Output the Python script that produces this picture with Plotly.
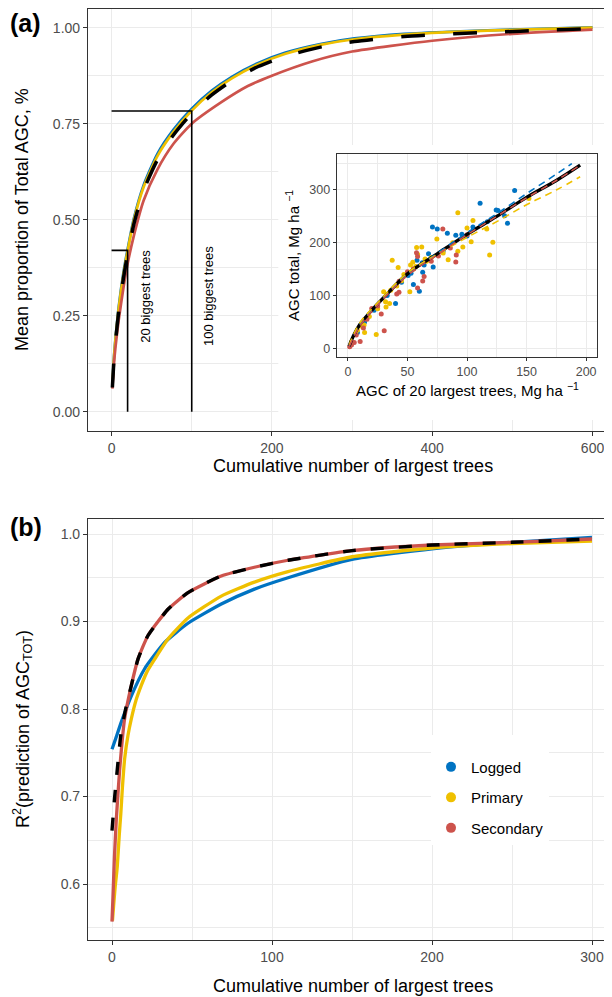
import plotly.graph_objects as go

# ------------------------------------------------------------------ data
GROUPS = ["Logged", "Primary", "Secondary"]
COLORS = {"Logged": "#0073C2", "Primary": "#EFC000", "Secondary": "#CD534C"}

# Panel (a): mean cumulative proportion of total AGC vs number of largest trees
a_x_lp = [1, 3, 5, 9, 15, 20, 28, 40, 57, 77, 100, 125, 150, 183, 217, 262, 303, 365, 427, 510, 600]
a_logged = [0.066, 0.142, 0.193, 0.274, 0.365, 0.423, 0.505, 0.590, 0.671, 0.734, 0.789, 0.836,
            0.872, 0.908, 0.935, 0.958, 0.972, 0.984, 0.990, 0.996, 1.001]
a_primary = [0.065, 0.140, 0.190, 0.270, 0.360, 0.418, 0.500, 0.585, 0.665, 0.728, 0.784, 0.832,
             0.868, 0.905, 0.932, 0.956, 0.970, 0.982, 0.989, 0.995, 1.000]
a_x_sec = [1, 3, 5, 9, 15, 20, 28, 40, 57, 77, 100, 137, 170, 200, 250, 300, 400, 500, 600]
a_secondary = [0.060, 0.125, 0.170, 0.240, 0.325, 0.385, 0.460, 0.550, 0.630, 0.697, 0.750, 0.806,
               0.848, 0.875, 0.912, 0.938, 0.966, 0.984, 0.995]
a_x_all = [1, 3, 5, 9, 15, 20, 28, 40, 57, 77, 100, 125, 150, 183, 217, 262, 303, 365, 427, 510, 600]
a_all = [0.063, 0.135, 0.183, 0.262, 0.350, 0.410, 0.490, 0.576, 0.655, 0.720, 0.777, 0.825,
         0.862, 0.899, 0.926, 0.950, 0.964, 0.977, 0.984, 0.991, 0.998]

# reference lines: n biggest trees and their share of AGC
ref_n = [20, 100]
ref_share = [0.42, 0.783]
ref_labels = ["20 biggest trees", "100 biggest trees"]
ref_label_x = [42, 121]
ref_label_y = [0.30, 0.30]

# Inset: AGC of 20 largest trees vs AGC total (Mg/ha)
ins_logged_x = [140, 111, 124.5, 126, 131.5, 134, 71, 75, 83.5, 90.6, 95.7, 105, 71.6, 67.7, 62.4,
                58, 60, 55, 40, 50.6, 62.8, 64, 3, 8, 14, 22, 33, 45, 53, 80, 100, 117]
ins_logged_y = [299, 275, 262, 261, 251, 237, 230, 226, 218, 214, 216, 230, 154, 179, 162,
                167, 108, 121, 85, 138, 144, 158, 10, 30, 50, 72, 100, 125, 142, 185, 213, 240]
ins_primary_x = [152, 92.3, 105, 116.6, 121.7, 119, 103.5, 100, 96.5, 92.3, 84.2, 74.7, 80, 37.2,
                 42.2, 62, 23.8, 31.6, 35, 32, 52, 13.6, 6.5, 14, 57.7, 58.5, 52.6, 54.5, 64.8, 30,
                 55, 57, 47, 3, 8, 11, 18, 25, 36, 41, 45, 66, 70, 88]
ins_primary_y = [284, 257, 242, 226, 201, 177, 202, 228, 192, 184, 168, 207, 180.5, 167,
                 153, 192, 26, 88, 85, 78, 107, 44, 27, 30, 191, 178, 158, 163, 169, 107,
                 150, 155, 140, 12, 34, 42, 60, 75, 110, 118, 128, 165, 172, 200]
ins_secondary_x = [79.7, 90.6, 91, 57.6, 58.5, 30.5, 10.3, 5.3, 28, 20, 13, 43, 42.9, 41, 64, 62.8,
                   58.5, 1.5, 3, 7, 16, 25, 50, 55, 70, 76, 86, 100]
ins_secondary_y = [226, 163.5, 177, 181, 174, 33, 13, 11, 65, 75.5, 38.5, 127, 106, 103, 136, 127.5,
                   114, 3, 6, 25, 55, 80, 145, 150, 165, 175, 190, 215]

# Inset fitted curves
fit_x_logged = [1, 10, 25, 50, 75, 100, 125, 150, 175, 188]
fit_logged = [4, 45, 84, 141, 180, 219, 255, 293, 330, 350]
fit_x = [1, 10, 25, 50, 75, 100, 125, 150, 175, 195]
fit_primary = [6, 48, 86, 143, 178, 210, 240, 272, 300, 325]
fit_secondary = [3, 42, 82, 138, 177, 215, 250, 285, 318, 347]
fit_x_all = [1, 5, 10, 20, 30, 50, 75, 100, 125, 150, 175, 195]
fit_all = [4, 25, 45, 72, 96, 141, 179, 216, 250, 286, 318, 347]

# Panel (b): R2 of AGC_TOT prediction vs number of largest trees
b_x_logged = [0, 2, 5.8, 12.1, 20.4, 32.9, 47.5, 68.3, 89, 110, 150, 200, 250, 300]
b_logged = [0.754, 0.7645, 0.785, 0.815, 0.846, 0.876, 0.898, 0.920, 0.937, 0.950, 0.971, 0.983, 0.9905, 0.996]
b_x_primary = [0.3, 1, 2, 3.3, 4.5, 5.5, 6.5, 7.9, 10, 12.1, 15, 18.3, 22, 26.7, 35, 47.5, 68.3,
               89, 110, 150, 200, 250, 300]
b_primary = [0.558, 0.575, 0.597, 0.620, 0.655, 0.680, 0.710, 0.743, 0.770, 0.789, 0.810, 0.827,
             0.843, 0.857, 0.880, 0.904, 0.929, 0.945, 0.957, 0.974, 0.984, 0.989, 0.992]
b_x_secondary = [0, 0.6, 1.5, 2.7, 4.8, 7.9, 12.1, 16.25, 22.5, 35, 47.5, 68.3, 89, 110, 150, 200, 250, 300]
b_secondary = [0.557, 0.585, 0.630, 0.674, 0.731, 0.789, 0.827, 0.857, 0.884, 0.914, 0.933, 0.952,
               0.962, 0.970, 0.981, 0.9874, 0.9905, 0.9943]
b_x_all = [0, 1.7, 3.3, 5.5, 8.5, 12.1, 16.25, 22.5, 35, 47.5, 68.3, 89, 110, 150, 200, 250, 300]
b_all = [0.661, 0.700, 0.731, 0.770, 0.800, 0.827, 0.857, 0.884, 0.914, 0.933, 0.952, 0.962, 0.970,
         0.981, 0.9874, 0.9905, 0.9943]

# ------------------------------------------------------------------ layout helpers
# the page body adds an 8px margin, so the figure is 8px smaller and all
# window positions are shifted by 8px
OFF = 8
W, H = 612 - OFF, 997 - OFF
FONT = "Liberation Sans, Arial, Helvetica, sans-serif"
TICK_C = "#4D4D4D"
LINE_C = "#333333"
GRID_C = "#EBEBEB"


def fx(p):
    return (p - OFF) / W


def fy(p):
    return 1 - (p - OFF) / H


fig = go.Figure()

# ---------------- panel (a)
a_series = {"Logged": (a_x_lp, a_logged), "Primary": (a_x_lp, a_primary), "Secondary": (a_x_sec, a_secondary)}
for g in GROUPS:
    xs, ys = a_series[g]
    fig.add_trace(go.Scatter(x=xs, y=ys, mode="lines", line=dict(color=COLORS[g], width=2.7, shape="spline", smoothing=0.6),
                             showlegend=False, hoverinfo="skip", xaxis="x", yaxis="y"))
fig.add_trace(go.Scatter(x=a_x_all, y=a_all, mode="lines",
                         line=dict(color="black", width=3.5, dash="24px,28px", shape="spline", smoothing=0.6),
                         showlegend=False, hoverinfo="skip", xaxis="x", yaxis="y"))
for n, s in zip(ref_n, ref_share):
    fig.add_trace(go.Scatter(x=[0, n, n], y=[s, s, 0], mode="lines", line=dict(color="black", width=1.6),
                             showlegend=False, hoverinfo="skip", xaxis="x", yaxis="y"))
for t, xx, yy in zip(ref_labels, ref_label_x, ref_label_y):
    fig.add_annotation(x=xx, y=yy, xref="x", yref="y", text=t, textangle=-90, showarrow=False,
                       font=dict(family=FONT, size=13, color="black"))

# ---------------- inset
ins_pts = {"Logged": (ins_logged_x, ins_logged_y), "Primary": (ins_primary_x, ins_primary_y),
           "Secondary": (ins_secondary_x, ins_secondary_y)}
for g in GROUPS:
    xs, ys = ins_pts[g]
    fig.add_trace(go.Scatter(x=xs, y=ys, mode="markers", marker=dict(color=COLORS[g], size=5),
                             showlegend=False, hoverinfo="skip", xaxis="x3", yaxis="y3"))
fig.add_trace(go.Scatter(x=fit_x_all, y=fit_all, mode="lines", line=dict(color="black", width=3.3, shape="spline"),
                         showlegend=False, hoverinfo="skip", xaxis="x3", yaxis="y3"))
ins_fit = {"Logged": (fit_x_logged, fit_logged), "Primary": (fit_x, fit_primary), "Secondary": (fit_x, fit_secondary)}
for g in GROUPS:
    xs, ys = ins_fit[g]
    fig.add_trace(go.Scatter(x=xs, y=ys, mode="lines",
                             line=dict(color=COLORS[g], width=1.6, dash="7px,5px", shape="spline"),
                             showlegend=False, hoverinfo="skip", xaxis="x3", yaxis="y3"))

# ---------------- panel (b)
b_series = {"Logged": (b_x_logged, b_logged), "Primary": (b_x_primary, b_primary),
            "Secondary": (b_x_secondary, b_secondary)}
for g in GROUPS:
    xs, ys = b_series[g]
    fig.add_trace(go.Scatter(x=xs, y=ys, mode="lines", line=dict(color=COLORS[g], width=3.3, shape="spline", smoothing=0.5),
                             showlegend=False, hoverinfo="skip", xaxis="x2", yaxis="y2"))
fig.add_trace(go.Scatter(x=b_x_all, y=b_all, mode="lines",
                         line=dict(color="black", width=3.4, dash="13px,15px", shape="spline", smoothing=0.5),
                         showlegend=False, hoverinfo="skip", xaxis="x2", yaxis="y2"))
# legend keys
for g in GROUPS:
    fig.add_trace(go.Scatter(x=[None], y=[None], mode="markers", marker=dict(color=COLORS[g], size=10),
                             name=g, legendgroup=g, showlegend=True, xaxis="x2", yaxis="y2"))

# white background of the inset (covers main grid behind it)
try:
    fig.add_shape(type="rect", xref="x", yref="y", x0=208, x1=618, y0=-0.0216, y1=0.6945,
                  fillcolor="white", line=dict(width=0), layer="between")
except ValueError:
    fig.add_shape(type="rect", xref="x", yref="y", x0=208, x1=618, y0=-0.0216, y1=0.6945,
                  fillcolor="white", line=dict(width=0), layer="below")


def axis(domain, rng, dtick, minor, fmt=None, tick_size=14, mirror=False, ticklen=4, anchor=None):
    d = dict(domain=domain, range=rng, dtick=dtick, tick0=0, showgrid=True, gridcolor=GRID_C, gridwidth=1.3,
             minor=dict(dtick=minor, tick0=0, showgrid=True, gridcolor=GRID_C, gridwidth=0.9),
             zeroline=False, showline=True, linecolor=LINE_C, linewidth=1.2, mirror=mirror,
             ticks="outside", ticklen=ticklen, tickwidth=1.1, tickcolor=LINE_C,
             tickfont=dict(family=FONT, size=tick_size, color=TICK_C), automargin=False)
    if fmt:
        d["tickformat"] = fmt
    if anchor:
        d["anchor"] = anchor
    return d


fig.update_layout(
    width=W, height=H, margin=dict(l=0, r=0, t=0, b=0),
    paper_bgcolor="white", plot_bgcolor="white",
    font=dict(family=FONT, color="black"),
    xaxis=axis([fx(88), 1], [-29.4, 624.3], 200, 100, mirror=True, anchor="y"),
    yaxis=axis([fy(431), fy(9)], [-0.0503, 1.0487], 0.25, 0.125, fmt=".2f", anchor="x"),
    xaxis2=axis([fx(88), 1], [-15, 312.5], 100, 50, mirror=True, anchor="y2"),
    yaxis2=axis([fy(940), fy(519)], [0.536, 1.01714], 0.1, 0.05, fmt=".1f", anchor="x2"),
    xaxis3=axis([fx(336.7), fx(597.3)], [-9.4, 209.4], 50, 25, tick_size=12.5, mirror=True, ticklen=3, anchor="y3"),
    yaxis3=axis([fy(357.3), fy(154.3)], [-17.1, 367.6], 100, 50, tick_size=12.5, mirror=True, ticklen=3, anchor="x3"),
    legend=dict(x=fx(431), y=fy(735), xanchor="left", yanchor="top", bgcolor="white", borderwidth=0,
                font=dict(family=FONT, size=15, color="black"), tracegroupgap=8, itemwidth=30,
                title=dict(text=" ", font=dict(size=12))),
)

# titles and panel labels
ann = [
    dict(x=fx(8), y=fy(23), text="<b>(a)</b>", xanchor="left", size=25),
    dict(x=fx(8), y=fy(527), text="<b>(b)</b>", xanchor="left", size=25),
    dict(x=fx(353), y=fy(466), text="Cumulative number of largest trees", size=18),
    dict(x=fx(353), y=fy(986), text="Cumulative number of largest trees", size=18),
    dict(x=fx(22), y=fy(220), text="Mean proportion of Total AGC, %", size=18, angle=-90),
    dict(x=fx(22), y=fy(729), text="R<sup>2</sup>(prediction of AGC<sub>TOT</sub>)", size=18, angle=-90),
    dict(x=fx(467), y=fy(390), text="AGC of 20 largest trees, Mg ha <sup>\u22121</sup>", size=15),
    dict(x=fx(293), y=fy(256), text="AGC total, Mg ha <sup>\u22121</sup>", size=15, angle=-90),
]
for a in ann:
    fig.add_annotation(x=a["x"], y=a["y"], xref="paper", yref="paper", text=a["text"], showarrow=False,
                       xanchor=a.get("xanchor", "center"), yanchor="middle", textangle=a.get("angle", 0),
                       font=dict(family=FONT, size=a["size"], color="black"))

fig.write_html("out.html")
